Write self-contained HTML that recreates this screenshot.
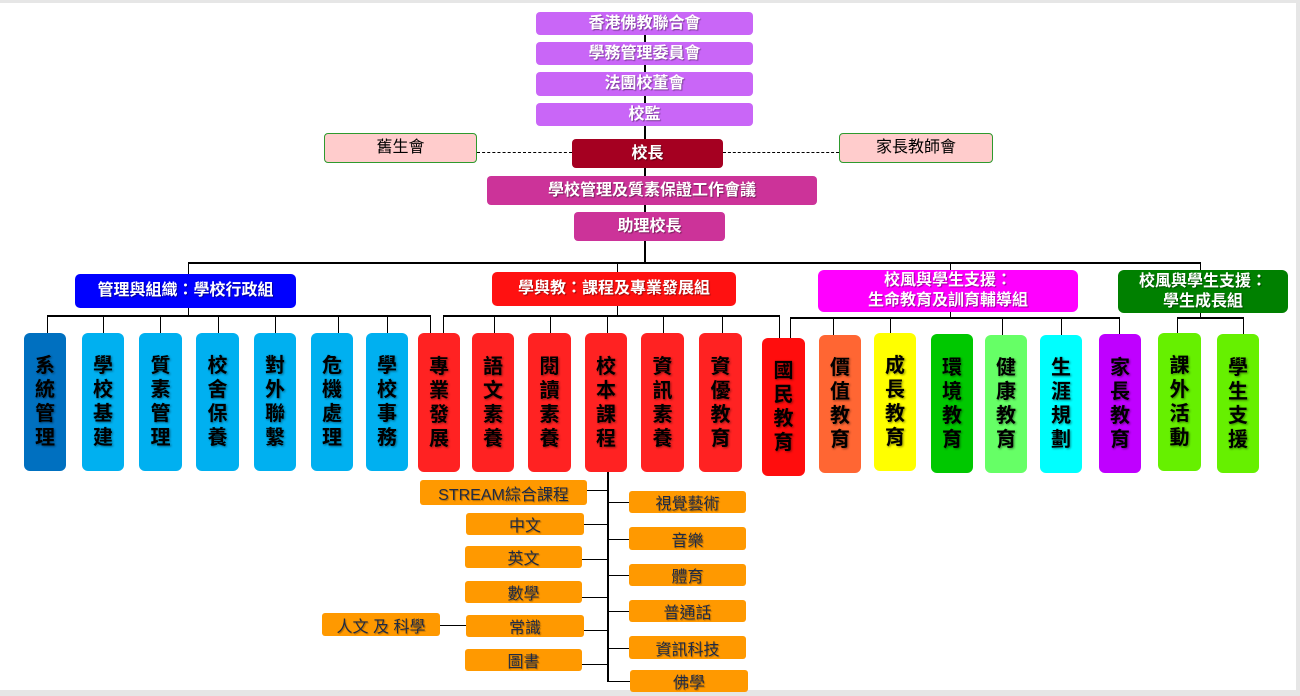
<!DOCTYPE html>
<html><head><meta charset="utf-8"><style>
*{margin:0;padding:0;box-sizing:border-box}
body{width:1300px;height:696px;background:#e6e6e6;position:relative;overflow:hidden;font-family:"Liberation Sans","Noto Sans CJK TC",sans-serif}
#w{position:absolute;left:0;top:3px;width:1296px;height:687px;background:#fff}
.b{position:absolute;display:flex;align-items:center;justify-content:center;text-align:center;border-radius:4px;font-weight:bold;color:#fff;font-size:16px;line-height:20px;text-shadow:1px 1px 1px rgba(0,0,0,.4)}
.v{position:absolute;border-radius:6px;display:flex;flex-direction:column;align-items:center;justify-content:center;font-size:20px;font-weight:bold;line-height:24px;color:#000;text-shadow:1px 1px 2px rgba(0,0,0,.45)}
.o{position:absolute;background:#ff9900;border-radius:3px;display:flex;align-items:center;justify-content:center;font-size:16px;color:#1f2a44;text-shadow:1px 1px 1px rgba(0,0,0,.3)}
.l{position:absolute;background:#000}
</style></head><body><div id="w"></div>
<div class="l" style="left:644px;top:35px;width:2px;height:227px"></div>
<div style="position:absolute;left:477px;top:152px;width:95px;border-top:1px dashed #000"></div>
<div style="position:absolute;left:723px;top:152px;width:116px;border-top:1px dashed #000"></div>
<div class="l" style="left:188px;top:262px;width:1013px;height:1.5px"></div>
<div class="l" style="left:188px;top:262px;width:1px;height:12px"></div>
<div class="l" style="left:617px;top:262px;width:1px;height:10px"></div>
<div class="l" style="left:617px;top:306px;width:1px;height:9px"></div>
<div class="l" style="left:950px;top:262px;width:1px;height:55px"></div>
<div class="l" style="left:1200px;top:262px;width:1px;height:8px"></div>
<div class="l" style="left:1200px;top:313px;width:1px;height:4px"></div>
<div class="l" style="left:188px;top:308px;width:1px;height:7px"></div>
<div class="l" style="left:47px;top:315px;width:384px;height:1.5px"></div>
<div class="l" style="left:47px;top:315px;width:1px;height:18px"></div>
<div class="l" style="left:103px;top:315px;width:1px;height:18px"></div>
<div class="l" style="left:160px;top:315px;width:1px;height:18px"></div>
<div class="l" style="left:218px;top:315px;width:1px;height:18px"></div>
<div class="l" style="left:275px;top:315px;width:1px;height:18px"></div>
<div class="l" style="left:338px;top:315px;width:1px;height:18px"></div>
<div class="l" style="left:387px;top:315px;width:1px;height:18px"></div>
<div class="l" style="left:430px;top:315px;width:1px;height:18px"></div>
<div class="l" style="left:443px;top:315px;width:336px;height:1.5px"></div>
<div class="l" style="left:443px;top:315px;width:1px;height:18px"></div>
<div class="l" style="left:494px;top:315px;width:1px;height:18px"></div>
<div class="l" style="left:550px;top:315px;width:1px;height:18px"></div>
<div class="l" style="left:607px;top:315px;width:1px;height:18px"></div>
<div class="l" style="left:663px;top:315px;width:1px;height:18px"></div>
<div class="l" style="left:722px;top:315px;width:1px;height:18px"></div>
<div class="l" style="left:779px;top:315px;width:1px;height:23px"></div>
<div class="l" style="left:790px;top:317px;width:330px;height:1.5px"></div>
<div class="l" style="left:790px;top:317px;width:1px;height:21px"></div>
<div class="l" style="left:833px;top:317px;width:1px;height:18px"></div>
<div class="l" style="left:890px;top:317px;width:1px;height:16px"></div>
<div class="l" style="left:1002px;top:317px;width:1px;height:18px"></div>
<div class="l" style="left:1061px;top:317px;width:1px;height:18px"></div>
<div class="l" style="left:1119px;top:317px;width:1px;height:17px"></div>
<div class="l" style="left:1177px;top:317px;width:67px;height:1.5px"></div>
<div class="l" style="left:1177px;top:317px;width:1px;height:16px"></div>
<div class="l" style="left:1243px;top:317px;width:1px;height:17px"></div>
<div class="l" style="left:607px;top:472px;width:1.5px;height:210px"></div>
<div class="l" style="left:587px;top:490px;width:20px;height:1px"></div>
<div class="l" style="left:584px;top:524px;width:23px;height:1px"></div>
<div class="l" style="left:582px;top:559px;width:25px;height:1px"></div>
<div class="l" style="left:582px;top:597px;width:25px;height:1px"></div>
<div class="l" style="left:584px;top:630px;width:23px;height:1px"></div>
<div class="l" style="left:582px;top:664px;width:25px;height:1px"></div>
<div class="l" style="left:440px;top:625px;width:26px;height:1px"></div>
<div class="l" style="left:607px;top:502px;width:22px;height:1px"></div>
<div class="l" style="left:607px;top:539px;width:22px;height:1px"></div>
<div class="l" style="left:607px;top:575px;width:22px;height:1px"></div>
<div class="l" style="left:607px;top:611px;width:22px;height:1px"></div>
<div class="l" style="left:607px;top:648px;width:22px;height:1px"></div>
<div class="l" style="left:607px;top:681px;width:23px;height:1px"></div>
<div class="b" style="left:536px;top:12px;width:217px;height:23px;background:#c966f7">香港佛教聯合會</div>
<div class="b" style="left:536px;top:42px;width:217px;height:23px;background:#c966f7">學務管理委員會</div>
<div class="b" style="left:536px;top:72px;width:217px;height:24px;background:#c966f7">法團校董會</div>
<div class="b" style="left:536px;top:103px;width:217px;height:23px;background:#c966f7">校監</div>
<div class="b" style="left:324px;top:133px;width:153px;height:30px;background:#ffcccc;border:1px solid #2e9a2e;color:#000;font-weight:normal;text-shadow:none">舊生會</div>
<div class="b" style="left:839px;top:133px;width:154px;height:30px;background:#ffcccc;border:1px solid #2e9a2e;color:#000;font-weight:normal;text-shadow:none">家長教師會</div>
<div class="b" style="left:572px;top:139px;width:151px;height:29px;background:#a50021">校長</div>
<div class="b" style="left:487px;top:176px;width:330px;height:29px;background:#cc3399">學校管理及質素保證工作會議</div>
<div class="b" style="left:574px;top:212px;width:151px;height:29px;background:#cc3399">助理校長</div>
<div class="b" style="left:75px;top:274px;width:221px;height:34px;background:#0000ff;border-radius:5px">管理與組織：學校行政組</div>
<div class="b" style="left:492px;top:272px;width:244px;height:34px;background:#ff1111;border-radius:5px">學與教：課程及專業發展組</div>
<div class="b" style="left:818px;top:270px;width:260px;height:42px;background:#ff00ff;border-radius:6px">校風與學生支援：<br>生命教育及訓育輔導組</div>
<div class="b" style="left:1118px;top:270px;width:170px;height:43px;background:#008000;border-radius:6px">校風與學生支援：<br>學生成長組</div>
<div class="v" style="left:24px;top:333px;width:42px;height:138px;background:#0070c0"><span>系</span><span>統</span><span>管</span><span>理</span></div>
<div class="v" style="left:82px;top:333px;width:42px;height:138px;background:#00b0f0"><span>學</span><span>校</span><span>基</span><span>建</span></div>
<div class="v" style="left:139px;top:333px;width:43px;height:138px;background:#00b0f0"><span>質</span><span>素</span><span>管</span><span>理</span></div>
<div class="v" style="left:196px;top:333px;width:43px;height:138px;background:#00b0f0"><span>校</span><span>舍</span><span>保</span><span>養</span></div>
<div class="v" style="left:254px;top:333px;width:42px;height:138px;background:#00b0f0"><span>對</span><span>外</span><span>聯</span><span>繫</span></div>
<div class="v" style="left:311px;top:333px;width:42px;height:138px;background:#00b0f0"><span>危</span><span>機</span><span>處</span><span>理</span></div>
<div class="v" style="left:366px;top:333px;width:42px;height:138px;background:#00b0f0"><span>學</span><span>校</span><span>事</span><span>務</span></div>
<div class="v" style="left:418px;top:333px;width:42px;height:139px;background:#ff2222"><span>專</span><span>業</span><span>發</span><span>展</span></div>
<div class="v" style="left:472px;top:333px;width:42px;height:139px;background:#ff2222"><span>語</span><span>文</span><span>素</span><span>養</span></div>
<div class="v" style="left:528px;top:333px;width:43px;height:139px;background:#ff2222"><span>閱</span><span>讀</span><span>素</span><span>養</span></div>
<div class="v" style="left:585px;top:333px;width:42px;height:139px;background:#ff2222"><span>校</span><span>本</span><span>課</span><span>程</span></div>
<div class="v" style="left:641px;top:333px;width:43px;height:139px;background:#ff2222"><span>資</span><span>訊</span><span>素</span><span>養</span></div>
<div class="v" style="left:699px;top:333px;width:43px;height:139px;background:#ff2222"><span>資</span><span>優</span><span>教</span><span>育</span></div>
<div class="v" style="left:762px;top:338px;width:43px;height:138px;background:#ff0d0d"><span>國</span><span>民</span><span>教</span><span>育</span></div>
<div class="v" style="left:819px;top:335px;width:42px;height:138px;background:#ff6633"><span>價</span><span>值</span><span>教</span><span>育</span></div>
<div class="v" style="left:874px;top:333px;width:42px;height:138px;background:#ffff00"><span>成</span><span>長</span><span>教</span><span>育</span></div>
<div class="v" style="left:931px;top:334px;width:42px;height:139px;background:#00c800"><span>環</span><span>境</span><span>教</span><span>育</span></div>
<div class="v" style="left:985px;top:335px;width:42px;height:138px;background:#66ff66"><span>健</span><span>康</span><span>教</span><span>育</span></div>
<div class="v" style="left:1040px;top:335px;width:42px;height:138px;background:#00ffff"><span>生</span><span>涯</span><span>規</span><span>劃</span></div>
<div class="v" style="left:1099px;top:334px;width:42px;height:139px;background:#bf00ff"><span>家</span><span>長</span><span>教</span><span>育</span></div>
<div class="v" style="left:1158px;top:333px;width:43px;height:138px;background:#66f000"><span>課</span><span>外</span><span>活</span><span>動</span></div>
<div class="v" style="left:1217px;top:334px;width:42px;height:139px;background:#66f000"><span>學</span><span>生</span><span>支</span><span>援</span></div>
<div class="o" style="left:420px;top:480px;width:167px;height:25px">STREAM綜合課程</div>
<div class="o" style="left:466px;top:513px;width:118px;height:22px">中文</div>
<div class="o" style="left:465px;top:546px;width:117px;height:22px">英文</div>
<div class="o" style="left:465px;top:581px;width:117px;height:22px">數學</div>
<div class="o" style="left:466px;top:615px;width:118px;height:22px">常識</div>
<div class="o" style="left:465px;top:649px;width:117px;height:22px">圖書</div>
<div class="o" style="left:322px;top:613px;width:118px;height:23px">人文 及 科學</div>
<div class="o" style="left:629px;top:491px;width:117px;height:22px">視覺藝術</div>
<div class="o" style="left:629px;top:527px;width:117px;height:23px">音樂</div>
<div class="o" style="left:629px;top:564px;width:117px;height:22px">體育</div>
<div class="o" style="left:629px;top:600px;width:117px;height:22px">普通話</div>
<div class="o" style="left:629px;top:636px;width:117px;height:23px">資訊科技</div>
<div class="o" style="left:630px;top:670px;width:118px;height:22px">佛學</div>
</body></html>
